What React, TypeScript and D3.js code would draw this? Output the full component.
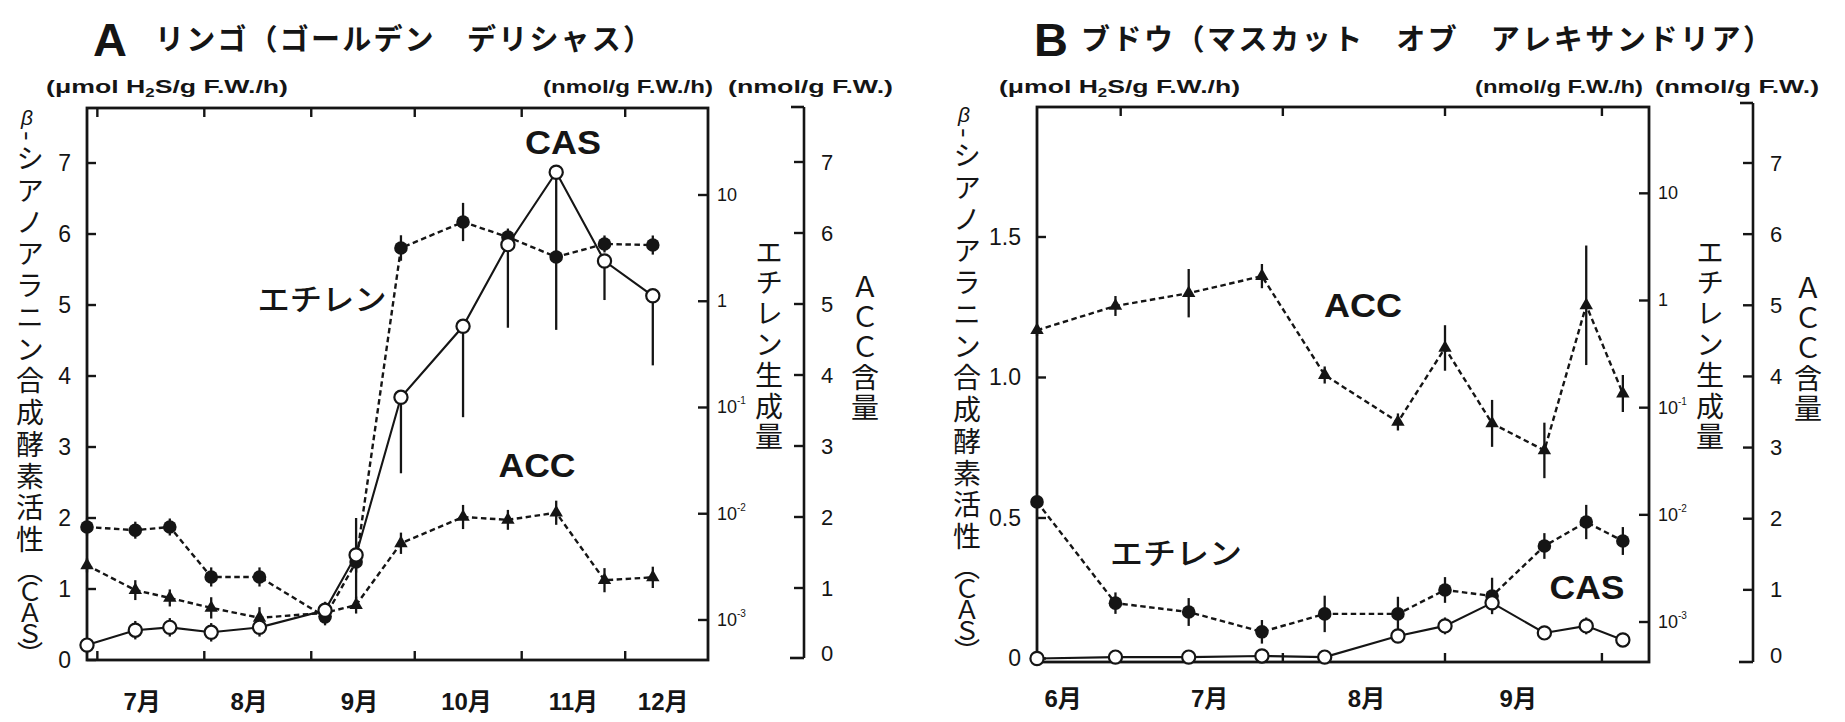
import React from 'react';
import * as d3 from 'd3';

const W = 1845;
const H = 722;
const YEAR = 2001;
const day = (md: string) => new Date(`${YEAR}-${md}T00:00:00`);

const INK = '#151515';
const FONT_LATIN = '"Liberation Sans", Arial, sans-serif';
const FONT_JP = '"Noto Sans CJK JP", "Noto Sans", sans-serif';

// ---- A: apple (Golden Delicious) ----
const appleDates = ['06-28', '07-12', '07-22', '08-03', '08-17', '09-05', '09-14', '09-27', '10-15', '10-28', '11-11', '11-25', '12-09'];
const appleCAS = [0.21, 0.42, 0.46, 0.39, 0.46, 0.7, 1.48, 3.7, 4.7, 5.85, 6.87, 5.62, 5.13];
const appleCASErrLo = [0.12, 0.13, 0.13, 0.13, 0.13, 0.12, 0.68, 1.07, 1.28, 1.17, 2.22, 0.55, 0.98];
const appleCASErrHi = [0.1, 0.13, 0.13, 0.13, 0.13, 0.12, 0.52, 0, 0, 0, 0, 0, 0];
const appleEthylene = [0.0075, 0.007, 0.0075, 0.00254, 0.00254, 0.00107, 0.00352, 3.17, 5.57, 4.02, 2.61, 3.46, 3.38];
const appleEthyleneErr = [0.08, 0.08, 0.08, 0.09, 0.09, 0.08, 0.1, 0.12, 0.18, 0.08, 0.06, 0.08, 0.09];
const appleACC = [1.32, 0.97, 0.86, 0.72, 0.58, 0.65, 0.76, 1.63, 2.0, 1.96, 2.06, 1.11, 1.15];
const appleACCErr = [0.1, 0.14, 0.12, 0.15, 0.15, 0.15, 0.12, 0.15, 0.17, 0.14, 0.17, 0.17, 0.15];
const appleMonthTicks = ['07-01', '08-01', '09-01', '10-01', '11-01', '12-01'];
const appleMonthLabels = ['7月', '8月', '9月', '10月', '11月', '12月'];
const appleMonthLabelDates = ['07-14', '08-14', '09-15', '10-16', '11-16', '12-12'];
const appleCASTicks = [0, 1, 2, 3, 4, 5, 6, 7];
const appleCASTickLabels = ['0', '1', '2', '3', '4', '5', '6', '7'];

// ---- B: grape (Muscat of Alexandria) ----
const grapeDates = ['06-15', '06-30', '07-14', '07-28', '08-09', '08-23', '09-01', '09-10', '09-20', '09-28', '10-05'];
const grapeCAS = [0, 0.005, 0.005, 0.009, 0.005, 0.08, 0.116, 0.198, 0.091, 0.116, 0.066];
const grapeCASErrLo = [0, 0.01, 0.01, 0.01, 0.012, 0.025, 0.03, 0.03, 0.025, 0.03, 0.025];
const grapeCASErrHi = [0, 0.01, 0.01, 0.01, 0.012, 0.025, 0.03, 0.03, 0.025, 0.03, 0.025];
const grapeEthylene = [0.0132, 0.0015, 0.00124, 0.00081, 0.00119, 0.00119, 0.00199, 0.00175, 0.00512, 0.00857, 0.0057];
const grapeEthyleneErr = [0.04, 0.1, 0.13, 0.11, 0.17, 0.16, 0.12, 0.17, 0.12, 0.16, 0.13];
const grapeACC = [4.65, 4.99, 5.17, 5.41, 4.02, 3.36, 4.4, 3.34, 2.96, 5.0, 3.76];
const grapeACCErr = [0.08, 0.14, 0.34, 0.17, 0.12, 0.12, 0.32, 0.33, 0.39, 0.84, 0.26];
const grapeMonthTicks = ['07-01', '08-01', '09-01', '10-01'];
const grapeMonthLabels = ['6月', '7月', '8月', '9月'];
const grapeMonthLabelDates = ['06-20', '07-18', '08-17', '09-15'];
const grapeCASTicks = [0, 0.5, 1, 1.5];
const grapeCASTickLabels = ['0', '0.5', '1.0', '1.5'];

// shared right-hand axes
const ethyleneTicks = [10, 1, 0.1, 0.01, 0.001];
const ethyleneTickBase = ['10', '1', '10', '10', '10'];
const ethyleneTickExp = ['', '', '-1', '-2', '-3'];
const accTicks = [0, 1, 2, 3, 4, 5, 6, 7];

const unitCAS = 'μmol H';
const unitEthylene = '(nmol/g F.W./h)';
const unitACC = '(nmol/g F.W.)';
const casAxisTitleMain = '-シアノアラニン合成酵素活性';
const casAxisTitleAbbr = '（ＣＡＳ）';
const ethAxisTitle = 'エチレン生成量';
const accAxisTitle = 'ＡＣＣ含量';

type Frame = { l: number; r: number; t: number; b: number };
type PanelSpec = {
  letter: string;
  title: string;
  letterX: number;
  titleX: number;
  titleWidth: number;
  units: { x: number; w: number }[];
  frame: Frame;
  xStart: string;
  xEnd: string;
  casDomain: [number, number];
  ethDomain: [number, number];
  accRange: [number, number];
  acc: { x: number; t: number; b: number };
  leftTitle: { x: number; betaY: number; start: number };
  ethTitle: { x: number; start: number };
  accTitle: { x: number; start: number };
  monthBaseline: number;
  tags: { text: string; x: number; y: number; w: number; jp?: boolean }[];
  dates: string[];
  cas: number[];
  casLo: number[];
  casHi: number[];
  eth: number[];
  ethErr: number[];
  accV: number[];
  accErr: number[];
  monthTicks: string[];
  monthLabels: string[];
  monthLabelDates: string[];
  casTicks: number[];
  casTickLabels: string[];
};

// Top-to-bottom Japanese caption.
function VerticalText({ x, y, text, size, spacing, weight = 400 }: { x: number; y: number; text: string; size: number; spacing: number; weight?: number }) {
  return (
    <text
      x={x}
      y={y}
      fontFamily={FONT_JP}
      fontSize={size}
      fontWeight={weight}
      letterSpacing={spacing}
      fill={INK}
      style={{ writingMode: 'vertical-rl', textOrientation: 'mixed' } as React.CSSProperties}
    >
      {text}
    </text>
  );
}

function Panel({ s }: { s: PanelSpec }) {
  const { frame: f } = s;
  const x = d3.scaleTime().domain([day(s.xStart), day(s.xEnd)]).range([f.l, f.r]);
  const yCas = d3.scaleLinear().domain(s.casDomain).range([f.b, f.t]);
  const yEth = d3.scaleLog().domain(s.ethDomain).range([f.b, f.t]);
  const yAcc = d3.scaleLinear().domain([0, 7]).range(s.accRange);
  const dates = s.dates.map(day);
  const px = (i: number) => x(dates[i]);

  const casPath = d3.line<number>().x((_, i) => px(i)).y((v) => yCas(v))(s.cas) || '';
  const ethPath = d3.line<number>().x((_, i) => px(i)).y((v) => yEth(v))(s.eth) || '';
  const accPath = d3.line<number>().x((_, i) => px(i)).y((v) => yAcc(v))(s.accV) || '';
  const tri = d3.symbol(d3.symbolTriangle, 78)() || '';

  const lw = 2.4;
  const dash = '5.5,3.5';
  const lt = s.leftTitle;

  return (
    <g>
      {/* title */}
      <text x={s.letterX} y={56} fontFamily={FONT_LATIN} fontWeight={700} fontSize={47} fill={INK}>
        {s.letter}
      </text>
      <text x={s.titleX} y={50} fontFamily={FONT_JP} fontWeight={700} fontSize={29} fill={INK} textLength={s.titleWidth} lengthAdjust="spacing">
        {s.title}
      </text>

      {/* unit captions */}
      <text x={s.units[0].x} y={93} fontFamily={FONT_LATIN} fontWeight={700} fontSize={19} fill={INK} textLength={s.units[0].w} lengthAdjust="spacingAndGlyphs">
        {'(' + unitCAS}
        <tspan fontSize={12} dy={4}>2</tspan>
        <tspan dy={-4}>S/g F.W./h)</tspan>
      </text>
      <text x={s.units[1].x} y={93} fontFamily={FONT_LATIN} fontWeight={700} fontSize={19} fill={INK} textLength={s.units[1].w} lengthAdjust="spacingAndGlyphs">
        {unitEthylene}
      </text>
      <text x={s.units[2].x} y={93} fontFamily={FONT_LATIN} fontWeight={700} fontSize={19} fill={INK} textLength={s.units[2].w} lengthAdjust="spacingAndGlyphs">
        {unitACC}
      </text>

      {/* axis titles */}
      <text x={lt.x - 3} y={lt.betaY} textAnchor="middle" dominantBaseline="central" fontFamily={FONT_LATIN} fontStyle="italic" fontSize={21} fill={INK}>
        β
      </text>
      <VerticalText x={lt.x} y={lt.start} text={casAxisTitleMain} size={28} spacing={3.75} />
      <VerticalText x={lt.x} y={lt.start + 426} text={casAxisTitleAbbr} size={26} spacing={-5} />
      <VerticalText x={s.ethTitle.x} y={s.ethTitle.start} text={ethAxisTitle} size={28} spacing={2.8} />
      <VerticalText x={s.accTitle.x} y={s.accTitle.start} text={accAxisTitle} size={28} spacing={2} />

      {/* frame */}
      <rect x={f.l} y={f.t} width={f.r - f.l} height={f.b - f.t} fill="none" stroke={INK} strokeWidth={2.8} />

      {/* month ticks (top and bottom, inward) */}
      {s.monthTicks.map((m) => (
        <g key={m} stroke={INK} strokeWidth={2.4}>
          <line x1={x(day(m))} x2={x(day(m))} y1={f.b} y2={f.b - 9} />
          <line x1={x(day(m))} x2={x(day(m))} y1={f.t} y2={f.t + 9} />
        </g>
      ))}
      {s.monthLabels.map((lab, i) => (
        <text key={lab} x={x(day(s.monthLabelDates[i]))} y={s.monthBaseline} textAnchor="middle" fontFamily={`"Liberation Sans", ${FONT_JP}`} fontWeight={700} fontSize={24} fill={INK}>
          {lab}
        </text>
      ))}

      {/* left CAS axis */}
      {s.casTicks.map((t, i) => (
        <g key={t}>
          <line x1={f.l} x2={f.l + 9} y1={yCas(t)} y2={yCas(t)} stroke={INK} strokeWidth={2.4} />
          <text x={f.l - 16} y={yCas(t)} textAnchor="end" dominantBaseline="central" fontFamily={FONT_LATIN} fontSize={23} fill={INK}>
            {s.casTickLabels[i]}
          </text>
        </g>
      ))}

      {/* ethylene log axis on the right frame */}
      {ethyleneTicks.map((t, i) => (
        <g key={t}>
          <line x1={f.r - 10} x2={f.r} y1={yEth(t)} y2={yEth(t)} stroke={INK} strokeWidth={2.4} />
          <text x={f.r + 9} y={yEth(t) + 6} fontFamily={FONT_LATIN} fontSize={18} fill={INK}>
            {ethyleneTickBase[i]}
            {ethyleneTickExp[i] && (
              <tspan fontSize={10} dy={-9}>
                {ethyleneTickExp[i]}
              </tspan>
            )}
          </text>
        </g>
      ))}

      {/* ACC axis */}
      <g stroke={INK} strokeWidth={2.6} fill="none">
        <line x1={s.acc.x} x2={s.acc.x} y1={s.acc.t} y2={s.acc.b} />
        <line x1={s.acc.x - 13} x2={s.acc.x} y1={s.acc.t} y2={s.acc.t} />
        <line x1={s.acc.x - 14} x2={s.acc.x} y1={s.acc.b} y2={s.acc.b} />
      </g>
      {accTicks.map((t) => (
        <g key={t}>
          {t > 0 && <line x1={s.acc.x - 10} x2={s.acc.x} y1={yAcc(t)} y2={yAcc(t)} stroke={INK} strokeWidth={2.4} />}
          <text x={s.acc.x + 17} y={yAcc(t) - (t === 0 ? 6 : 0)} dominantBaseline="central" fontFamily={FONT_LATIN} fontSize={22} fill={INK}>
            {t}
          </text>
        </g>
      ))}

      {/* series lines */}
      <path d={accPath} fill="none" stroke={INK} strokeWidth={lw} strokeDasharray={dash} />
      <path d={ethPath} fill="none" stroke={INK} strokeWidth={lw} strokeDasharray={dash} />
      <path d={casPath} fill="none" stroke={INK} strokeWidth={2.1} />

      {/* error bars */}
      <g stroke={INK} strokeWidth={2.3}>
        {s.accV.map((v, i) => (
          <line key={'a' + i} x1={px(i)} x2={px(i)} y1={yAcc(v - s.accErr[i])} y2={yAcc(v + s.accErr[i])} />
        ))}
        {s.eth.map((v, i) => (
          <line key={'e' + i} x1={px(i)} x2={px(i)} y1={yEth(v * Math.pow(10, -s.ethErr[i]))} y2={yEth(v * Math.pow(10, s.ethErr[i]))} />
        ))}
        {s.cas.map((v, i) => (
          <line key={'c' + i} x1={px(i)} x2={px(i)} y1={yCas(v - s.casLo[i])} y2={yCas(v + s.casHi[i])} />
        ))}
      </g>

      {/* markers */}
      {s.accV.map((v, i) => (
        <path key={'ta' + i} d={tri} transform={`translate(${px(i)},${yAcc(v)})`} fill={INK} />
      ))}
      {s.eth.map((v, i) => (
        <circle key={'ce' + i} cx={px(i)} cy={yEth(v)} r={6.8} fill={INK} />
      ))}
      {s.cas.map((v, i) => (
        <circle key={'cc' + i} cx={px(i)} cy={yCas(v)} r={6.6} fill="#fff" stroke={INK} strokeWidth={2.2} />
      ))}

      {/* series tags */}
      {s.tags.map((t) => (
        <text
          key={t.text}
          x={t.x}
          y={t.y}
          textAnchor="middle"
          dominantBaseline="central"
          fontFamily={t.jp ? FONT_JP : FONT_LATIN}
          fontWeight={t.jp ? 500 : 700}
          fontSize={t.jp ? 30 : 33}
          fill={INK}
          textLength={t.w}
          lengthAdjust="spacingAndGlyphs"
        >
          {t.text}
        </text>
      ))}
    </g>
  );
}

const panelA: PanelSpec = {
  letter: 'A',
  title: 'リンゴ（ゴールデン　デリシャス）',
  letterX: 93,
  titleX: 155,
  titleWidth: 497,
  units: [
    { x: 46, w: 242 },
    { x: 543, w: 170 },
    { x: 728, w: 165 },
  ],
  frame: { l: 87, r: 708, t: 108, b: 660 },
  xStart: '06-28',
  xEnd: '12-25',
  casDomain: [0, 7.775],
  ethDomain: [4.2e-4, 65.9],
  accRange: [659, 162],
  acc: { x: 804, t: 107, b: 658 },
  leftTitle: { x: 30, betaY: 117, start: 131 },
  ethTitle: { x: 769, start: 238 },
  accTitle: { x: 865, start: 273 },
  monthBaseline: 710,
  tags: [
    { text: 'CAS', x: 563, y: 142, w: 76 },
    { text: 'ACC', x: 537, y: 465, w: 77 },
    { text: 'エチレン', x: 322, y: 297, w: 129, jp: true },
  ],
  dates: appleDates,
  cas: appleCAS,
  casLo: appleCASErrLo,
  casHi: appleCASErrHi,
  eth: appleEthylene,
  ethErr: appleEthyleneErr,
  accV: appleACC,
  accErr: appleACCErr,
  monthTicks: appleMonthTicks,
  monthLabels: appleMonthLabels,
  monthLabelDates: appleMonthLabelDates,
  casTicks: appleCASTicks,
  casTickLabels: appleCASTickLabels,
};

const panelB: PanelSpec = {
  letter: 'B',
  title: 'ブドウ（マスカット　オブ　アレキサンドリア）',
  letterX: 1034,
  titleX: 1081,
  titleWidth: 691,
  units: [
    { x: 999, w: 241 },
    { x: 1475, w: 168 },
    { x: 1655, w: 164 },
  ],
  frame: { l: 1037, r: 1649, t: 107, b: 662 },
  xStart: '06-15',
  xEnd: '10-10',
  casDomain: [-0.0125, 1.9626],
  ethDomain: [4.235e-4, 63.9],
  accRange: [661, 163],
  acc: { x: 1753, t: 103, b: 662 },
  leftTitle: { x: 967, betaY: 114, start: 128 },
  ethTitle: { x: 1710, start: 238 },
  accTitle: { x: 1808, start: 274 },
  monthBaseline: 707,
  tags: [
    { text: 'ACC', x: 1363, y: 305, w: 78 },
    { text: 'CAS', x: 1587, y: 587, w: 75 },
    { text: 'エチレン', x: 1176, y: 551, w: 132, jp: true },
  ],
  dates: grapeDates,
  cas: grapeCAS,
  casLo: grapeCASErrLo,
  casHi: grapeCASErrHi,
  eth: grapeEthylene,
  ethErr: grapeEthyleneErr,
  accV: grapeACC,
  accErr: grapeACCErr,
  monthTicks: grapeMonthTicks,
  monthLabels: grapeMonthLabels,
  monthLabelDates: grapeMonthLabelDates,
  casTicks: grapeCASTicks,
  casTickLabels: grapeCASTickLabels,
};

export default function App() {
  return (
    <svg width={W} height={H} viewBox={`0 0 ${W} ${H}`} style={{ position: 'absolute', left: 0, top: 0, background: '#fff' }}>
      <rect width={W} height={H} fill="#fff" />
      <Panel s={panelA} />
      <Panel s={panelB} />
    </svg>
  );
}
